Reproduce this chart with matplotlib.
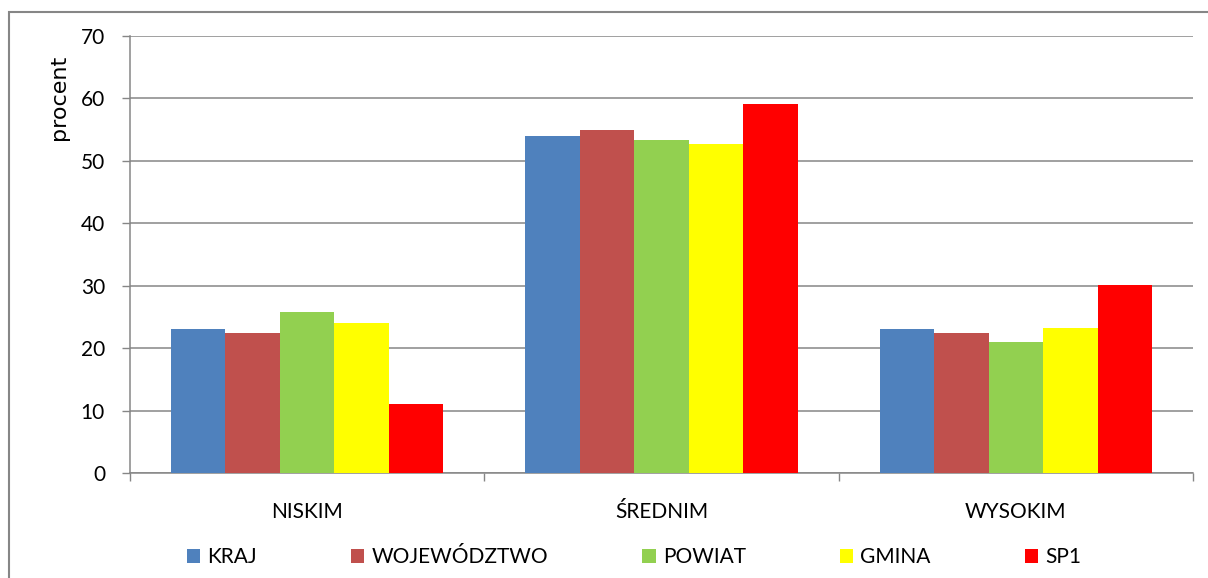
import numpy as np
import matplotlib
matplotlib.use("Agg")
import matplotlib.pyplot as plt
from matplotlib.patches import Rectangle

plt.rcParams['font.family'] = ['Lato', 'DejaVu Sans']

categories = ['NISKIM', 'ŚREDNIM', 'WYSOKIM']
series = ['KRAJ', 'WOJEWÓDZTWO', 'POWIAT', 'GMINA', 'SP1']
kraj = [23.0, 54.0, 23.0]
wojewodztwo = [22.5, 55.0, 22.5]
powiat = [25.8, 53.3, 21.0]
gmina = [24.1, 52.7, 23.3]
sp1 = [11.0, 59.1, 30.1]
values = [kraj, wojewodztwo, powiat, gmina, sp1]
colors = ['#4F81BD', '#C0504D', '#92D050', '#FFFF00', '#FF0000']

grey = '#868686'
fs = 15
fig = plt.figure(figsize=(12.08, 5.78), dpi=100)
ax = fig.add_axes([130/1208, 1-473/578, 1063/1208, 437/578])

x = np.arange(len(categories))
w = 1/6.5
for i, (name, vals) in enumerate(zip(series, values)):
    ax.bar(x + (i-2)*w, vals, width=w, color=colors[i], label=name, zorder=3, linewidth=0)

ax.set_xlim(-0.5, 2.5)
ax.set_ylim(0, 70)
ax.set_yticks(range(0, 71, 10))
ax.yaxis.grid(True, color=grey, linewidth=1.1, zorder=0)
ax.set_axisbelow(True)
ax.set_xticks(x)
ax.set_xticklabels(categories, fontsize=fs)
ax.set_xticks(np.arange(-0.5, 3, 1), minor=True)
ax.tick_params(axis='x', which='major', length=0, pad=21)
ax.tick_params(axis='x', which='minor', length=6, color=grey, width=1)
ax.tick_params(axis='y', length=6, color=grey, width=1, labelsize=fs, pad=12)
for s in ['top', 'right']:
    ax.spines[s].set_visible(False)
for s in ['left', 'bottom']:
    ax.spines[s].set_color(grey)
    ax.spines[s].set_linewidth(1.1)

fig.text(59/1208, 1-97/578, 'procent', rotation=90, ha='center', va='center',
         fontsize=16, family=['DejaVu Sans'])

fig.legend(loc='center', bbox_to_anchor=(634/1208, 1-557/578), ncol=5, frameon=False,
           fontsize=fs, handlelength=0.65, handleheight=0.65, handletextpad=0.35,
           columnspacing=4.5)

fig.patches.append(Rectangle((8.5/1208, -0.1), 1.2, 1.1 - 12.3/578,
                             transform=fig.transFigure, fill=False,
                             edgecolor=grey, linewidth=1.5))

fig.savefig('out.png', dpi=100)
